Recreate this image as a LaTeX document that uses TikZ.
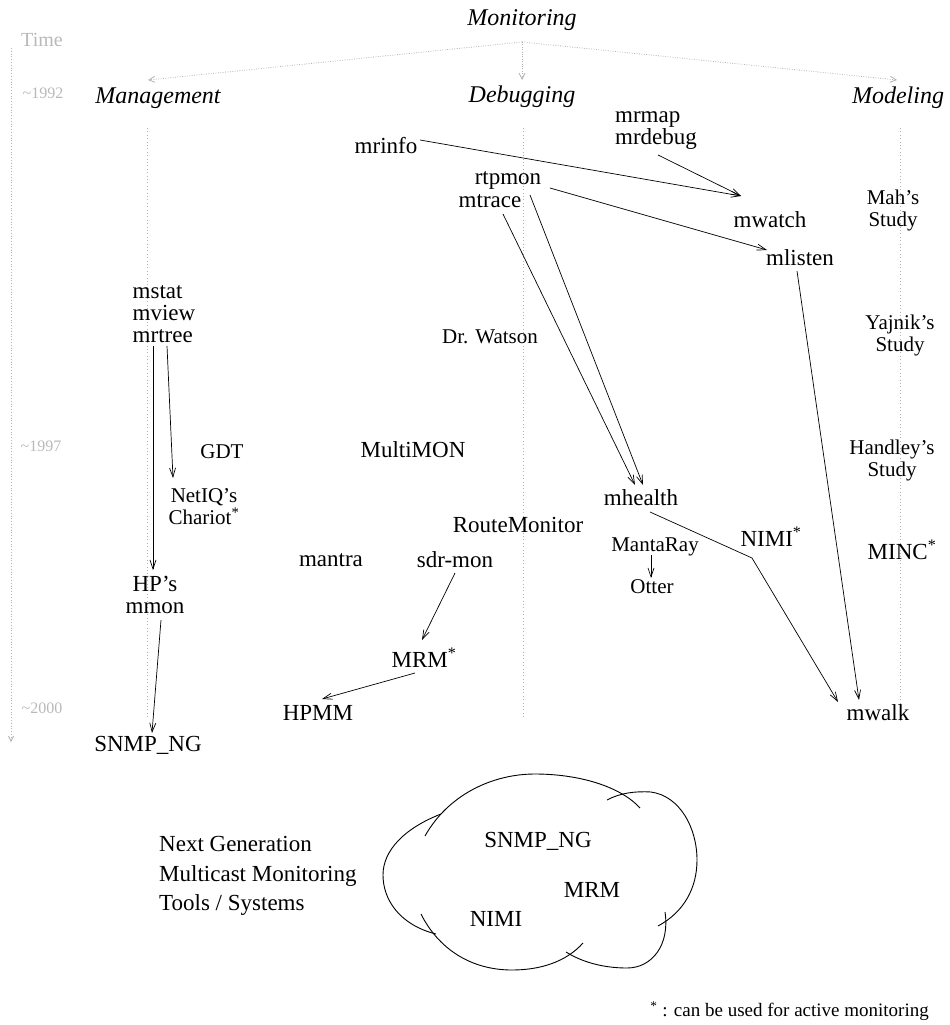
\documentclass[tikz,border=0pt]{standalone}
\usepackage{fontspec}
\setmainfont{Liberation Serif}
\usetikzlibrary{arrows.meta}
\begin{document}
\begin{tikzpicture}[x=1pt,y=-1pt,
  lbl/.style={inner sep=1pt, font=\fontsize{23}{22}\selectfont, align=center},
  sml/.style={inner sep=1pt, font=\fontsize{21}{22}\selectfont, align=center},
  hd/.style={inner sep=1pt, font=\fontsize{24}{24}\selectfont\itshape},
  tm/.style={inner sep=1pt, text=gray!55, font=\fontsize{20}{20}\selectfont},
  yr/.style={inner sep=1pt, text=gray!55, font=\fontsize{16}{16}\selectfont},
  guide/.style={gray!60, line width=0.8pt, dash pattern=on 0.8pt off 2.6pt},
  darr/.style={gray!60, line width=0.8pt, dash pattern=on 0.8pt off 1.6pt, -{Straight Barb[length=6pt,width=6pt]}},
  arr/.style={black, line width=0.7pt, -{Straight Barb[length=9pt,width=6pt]}},
  cloudline/.style={black, line width=0.9pt}
]
\useasboundingbox (0,0) rectangle (950,1025);

% guides
\draw[guide] (147,128) -- (147,718);
\draw[guide] (523,128) -- (523,718);
\draw[guide] (900,128) -- (900,720);
\draw[guide, dash pattern=on 0.8pt off 2pt, -{Straight Barb[length=5pt,width=5pt]}] (11,48) -- (11,742);

% headings
\node[hd] (mon) at (522,20) {Monitoring};
\node[hd] (mgmt) at (158,98) {Management};
\node[hd] (dbg) at (522,97) {Debugging};
\node[hd] (mdl) at (898,98) {Modeling};
\node[tm] (time) at (42,40) {Time};
\node[yr] (y92) at (43,93) {\textasciitilde1992};
\node[yr] (y97) at (41,446) {\textasciitilde1997};
\node[yr] (y00) at (42,708) {\textasciitilde2000};

\draw[darr] ([yshift=-22pt]mon.center) -- ([xshift=-10pt,yshift=18pt]mgmt.center);
\draw[darr] ([yshift=-22pt]mon.center) -- ([yshift=17pt]dbg.center);
\draw[darr] ([yshift=-22pt]mon.center) -- ([xshift=-1pt,yshift=18pt]mdl.center);

% management
\node[lbl, align=left] (mst) at (164,314) {mstat\\mview\\mrtree};
\node[sml] (gdt) at (222,452) {GDT};
\node[sml] (netiq) at (204,507) {NetIQ’s\\Chariot\textsuperscript{*}};
\node[lbl] (hp) at (155,595) {HP’s\\mmon};
\node[lbl] (snmp) at (148,745) {SNMP\_NG};

\draw[arr] ([xshift=-11pt,yshift=-32pt]mst.center) -- ([xshift=-2pt,yshift=25pt]hp.center);
\draw[arr] ([xshift=3pt,yshift=-32pt]mst.center) -- ([xshift=-31pt,yshift=29pt]netiq.center);
\draw[arr] ([xshift=6pt,yshift=-25pt]hp.center) -- ([xshift=4pt,yshift=12pt]snmp.center);

% debugging
\node[lbl] (mrinfo) at (386,146) {mrinfo};
\node[lbl, align=left] (mrmap) at (656,131) {mrmap\\mrdebug};
\node[lbl] (rtp) at (508,180) {rtpmon};
\node[lbl] (mtr) at (490,201) {mtrace};
\node[lbl] (mwatch) at (770,220) {mwatch};
\node[lbl] (mlisten) at (800,258) {mlisten};
\node[sml] (watson) at (490,337) {Dr. Watson};
\node[lbl] (multimon) at (413,450) {MultiMON};
\node[lbl] (routemon) at (518,525) {RouteMonitor};
\node[lbl] (mantra) at (331,560) {mantra};
\node[lbl] (sdr) at (455,560) {sdr-mon};
\node[lbl] (mrm) at (424,658) {MRM\textsuperscript{*}};
\node[lbl] (hpmm) at (318,713) {HPMM};
\node[lbl] (mh) at (641,498) {mhealth};
\node[lbl] (nimi) at (771,537) {NIMI\textsuperscript{*}};
\node[sml] (manta) at (655,547) {MantaRay};
\node[sml] (otter) at (652,587) {Otter};
\node[lbl] (mwalk) at (878,713) {mwalk};
\coordinate (bend) at (752,558);

\draw[arr] ([xshift=34pt,yshift=6pt]mrinfo.center) -- ([xshift=-29pt,yshift=24pt]mwatch.center);
\draw[arr] ([xshift=2pt,yshift=-24pt]mrmap.center) -- ([xshift=-29pt,yshift=24pt]mwatch.center);
\draw[arr] ([xshift=42pt,yshift=-8pt]rtp.center) -- ([xshift=-33pt,yshift=8pt]mlisten.center);
\draw[arr] ([xshift=13pt,yshift=-13pt]mtr.center) -- ([xshift=-6pt,yshift=13pt]mh.center);
\draw[arr] ([xshift=22pt,yshift=-15pt]rtp.center) -- ([xshift=2pt,yshift=13pt]mh.center);
\draw[arr] ([xshift=-3pt,yshift=-13pt]mlisten.center) -- ([xshift=-19pt,yshift=13pt]mwalk.center);
\draw[arr] ([xshift=9pt,yshift=-14pt]mh.center) -- (bend) -- ([xshift=-40pt,yshift=11pt]mwalk.center);
\draw[arr] ([xshift=-4pt,yshift=-8pt]manta.center) -- ([xshift=-1pt,yshift=9pt]otter.center);
\draw[arr] ([yshift=-13pt]sdr.center) -- ([xshift=-2pt,yshift=18pt]mrm.center);
\draw[arr] ([xshift=-9pt,yshift=-15pt]mrm.center) -- ([xshift=4pt,yshift=14pt]hpmm.center);

% modeling
\node[sml] (mah) at (893,210) {Mah’s\\Study};
\node[sml] (yaj) at (900,335) {Yajnik’s\\Study};
\node[sml] (hand) at (892,460) {Handley’s\\Study};
\node[lbl] (minc) at (902,550) {MINC\textsuperscript{*}};

% bottom
\node[lbl, align=left, anchor=west, font=\fontsize{23}{29.5}\selectfont] (ng) at (158,876) {Next Generation\\Multicast Monitoring\\Tools / Systems};
\draw[cloudline] (441,814) .. controls (405,828) and (383,850) .. (383,875) .. controls (383,900) and (400,925) .. (436,934);
\draw[cloudline] (425,836) .. controls (448,795) and (492,774) .. (535,774) .. controls (578,774) and (620,786) .. (640,808);
\draw[cloudline] (607,800) .. controls (620,793) and (635,791) .. (651,792) .. controls (680,796) and (697,828) .. (697,860) .. controls (697,888) and (684,912) .. (658,926);
\draw[cloudline] (665,912) .. controls (670,945) and (652,968) .. (627,968) .. controls (603,968) and (582,962) .. (566,952);
\draw[cloudline] (583,943) .. controls (566,962) and (540,970) .. (512,970) .. controls (470,970) and (438,948) .. (421,914);
\node[lbl] (csnmp) at (538,841) {SNMP\_NG};
\node[lbl] (cmrm) at (592,890) {MRM};
\node[lbl] (cnimi) at (496,919) {NIMI};

\node[inner sep=1pt, anchor=east, font=\fontsize{19}{20}\selectfont] (foot) at (930,1011) {\textsuperscript{*} : can be used for active monitoring};
\end{tikzpicture}
\end{document}
